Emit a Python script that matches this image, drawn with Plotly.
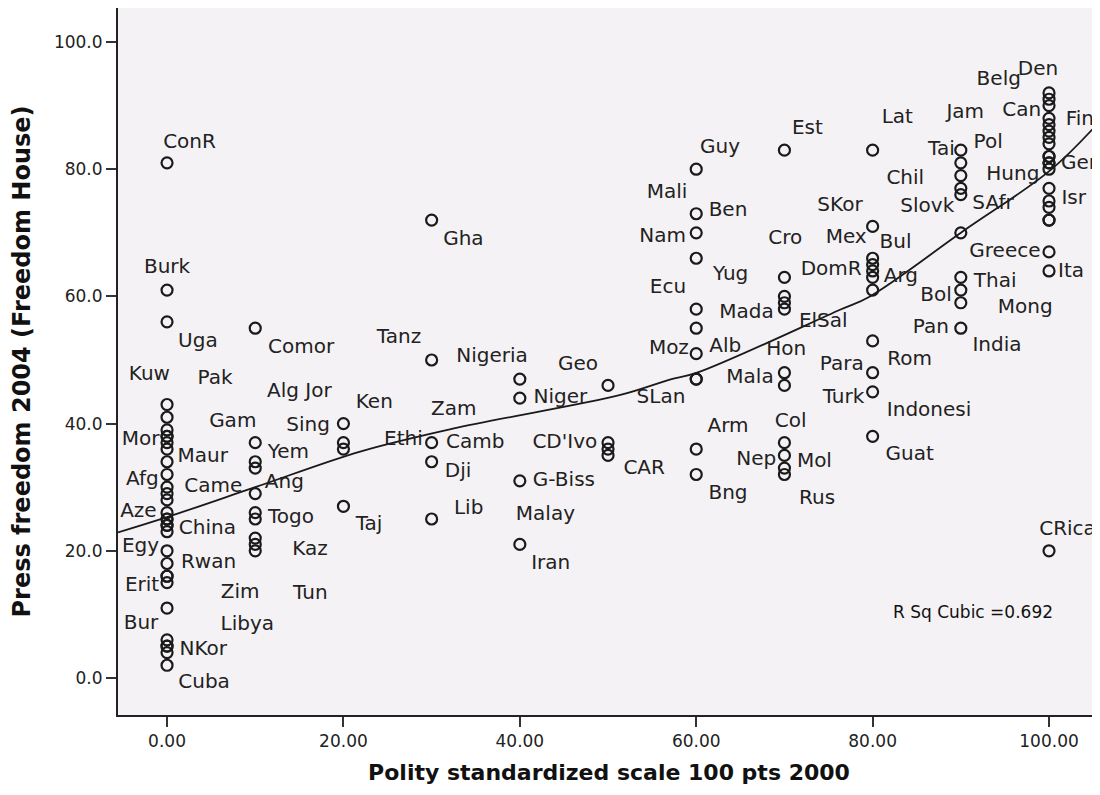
import plotly.graph_objects as go

# ---- scatter points (polity score, press freedom) ----
pts_x = ([0] * 32 + [10] * 10 + [20] * 4 + [30] * 5 + [40] * 4 + [50] * 4 +
         [60] * 11 + [70] * 11 + [80] * 11 + [90] * 10 + [100] * 21)
pts_y = [
    # x = 0
    81, 61, 56, 43, 41, 39, 38, 38, 37, 36, 34, 32, 30, 29, 28, 26, 25, 25, 24, 24,
    23, 20, 18, 16, 16, 15, 11, 6, 5, 5, 4, 2,
    # x = 10
    55, 37, 34, 33, 29, 26, 25, 22, 21, 20,
    # x = 20
    40, 37, 36, 27,
    # x = 30
    72, 50, 37, 34, 25,
    # x = 40
    47, 44, 31, 21,
    # x = 50
    46, 37, 36, 35,
    # x = 60
    80, 73, 70, 66, 58, 55, 51, 47, 47, 36, 32,
    # x = 70
    83, 63, 60, 59, 58, 48, 46, 37, 35, 33, 32,
    # x = 80
    83, 71, 66, 65, 64, 63, 61, 53, 48, 45, 38,
    # x = 90
    83, 81, 79, 77, 76, 70, 63, 61, 59, 55,
    # x = 100
    92, 91, 90, 88, 87, 86, 85, 84, 82, 82, 81, 81, 80, 77, 75, 74, 72, 72, 67, 64, 20,
]

# ---- country labels (text and where it sits, in data units) ----
lab_text = ["ConR", "Burk", "Uga", "Comor", "Kuw", "Pak", "Alg Jor", "Gam", "Sing", "Mor",
            "Yem", "Maur", "Afg", "Came", "Ang", "Aze", "Togo", "China", "Egy", "Kaz",
            "Rwan", "Erit", "Zim", "Tun", "Bur", "Libya", "NKor", "Cuba", "Ken", "Tanz",
            "Gha", "Nigeria", "Geo", "Niger", "Zam", "Ethi", "Camb", "CD'Ivo", "Dji", "G-Biss",
            "Lib", "Taj", "Malay", "Iran", "CAR", "Est", "Guy", "Mali", "Ben", "SKor",
            "Nam", "Cro", "Mex", "Yug", "DomR", "Ecu", "Mada", "ElSal", "Moz", "Alb",
            "Hon", "Para", "Mala", "SLan", "Turk", "Col", "Arm", "Nep", "Mol", "Bng",
            "Rus", "Belg", "Den", "Jam", "Can", "Fin", "Lat", "Tai", "Pol", "Ger",
            "Hung", "Chil", "Slovk", "SAfr", "Isr", "Bul", "Greece", "Ita", "Arg", "Thai",
            "Bol", "Mong", "Pan", "India", "Rom", "Indonesi", "Guat", "CRica"]
lab_x = [2.55, 0.0, 3.5, 15.2, -2.0, 5.44, 15.0, 7.45, 16.0, -3.0,
         13.75, 4.05, -2.8, 5.25, 13.3, -3.25, 14.05, 4.57, -3.0, 16.2,
         4.7, -2.83, 8.28, 16.25, -2.95, 9.1, 4.1, 4.2, 23.5, 26.3,
         33.6, 36.85, 46.6, 44.6, 32.5, 26.8, 34.95, 45.1, 33.0, 45.0,
         34.2, 22.9, 42.9, 43.5, 54.1, 72.6, 62.7, 56.7, 63.6, 76.3,
         56.2, 70.1, 77.0, 63.9, 75.3, 56.8, 65.7, 74.4, 56.9, 63.3,
         70.2, 76.5, 66.1, 56.0, 76.7, 70.7, 63.6, 66.8, 73.4, 63.6,
         73.7, 94.3, 98.75, 90.5, 96.9, 103.5, 82.8, 87.8, 93.1, 103.4,
         95.9, 83.7, 86.2, 93.65, 102.8, 82.6, 95.0, 102.5, 83.2, 93.9,
         87.2, 97.3, 86.6, 94.1, 84.2, 86.4, 84.2, 102.1]
lab_y = [84.2, 64.5, 52.8, 51.9, 47.6, 47.0, 44.9, 40.2, 39.7, 37.5,
         35.3, 34.7, 31.1, 30.1, 30.6, 26.1, 25.2, 23.4, 20.6, 20.2,
         18.1, 14.4, 13.3, 13.2, 8.5, 8.3, 4.4, -0.8, 43.3, 53.4,
         68.9, 50.5, 49.2, 44.1, 42.1, 37.4, 37.0, 36.9, 32.4, 31.0,
         26.6, 24.1, 25.7, 17.9, 32.8, 86.3, 83.4, 76.3, 73.4, 74.2,
         69.3, 69.1, 69.2, 63.4, 64.2, 61.3, 57.4, 55.9, 51.8, 52.1,
         51.6, 49.2, 47.2, 44.0, 44.0, 40.2, 39.4, 34.2, 34.0, 28.9,
         28.1, 94.1, 95.6, 88.9, 89.2, 87.8, 88.1, 83.1, 84.2, 80.8,
         79.1, 78.5, 74.0, 74.6, 75.3, 68.4, 67.0, 63.9, 63.1, 62.2,
         60.0, 58.1, 55.1, 52.2, 50.0, 42.0, 35.1, 23.3]

# ---- cubic fit line ----
fit_x = [-5.56, 0, 10, 21.9, 32.4, 51.4, 57.0, 60.1, 76.3, 79.7, 90.2, 100.2, 105.8]
fit_y = [22.9, 25.3, 30.0, 35.6, 39.2, 44.5, 46.9, 48.0, 57.9, 60.0, 70.2, 79.9, 87.6]

r_sq_text = "R Sq Cubic =0.692"
r_sq_pos = (91.4, 10.3)

x_ticks = [0, 20, 40, 60, 80, 100]
y_ticks = [0, 20, 40, 60, 80, 100]

FONT = "DejaVu Sans"
INK = "#222222"

fig = go.Figure()
fig.add_trace(go.Scatter(
    x=fit_x, y=fit_y, mode="lines",
    line=dict(color="#1a1a1a", width=1.8, shape="spline", smoothing=1.0),
    hoverinfo="skip", showlegend=False, cliponaxis=True))
fig.add_trace(go.Scatter(
    x=pts_x, y=pts_y, mode="markers",
    marker=dict(symbol="circle-open", size=11, color="#1a1a1a",
                line=dict(width=2.2, color="#1a1a1a")),
    showlegend=False))
fig.add_trace(go.Scatter(
    x=lab_x, y=lab_y, mode="text", text=lab_text,
    textposition="middle center",
    textfont=dict(family=FONT, size=20, color=INK),
    showlegend=False, hoverinfo="skip", cliponaxis=False))

fig.add_annotation(x=r_sq_pos[0], y=r_sq_pos[1], text=r_sq_text, showarrow=False,
                   font=dict(family=FONT, size=17, color="#111111"),
                   xanchor="center", yanchor="middle")

# the page adds an 8px body margin, so the figure is sized to fit inside it
FIG_W, FIG_H = 1092, 779
fig.update_layout(
    width=FIG_W, height=FIG_H,
    margin=dict(l=110, r=0, t=0, b=72, autoexpand=False),
    paper_bgcolor="white",
    plot_bgcolor="#F5F2F5",
    font=dict(family=FONT, color=INK),
)
fig.update_xaxes(
    range=[-5.56, 105.78], tickvals=x_ticks, tickformat=".2f",
    ticks="outside", ticklen=10, tickwidth=1.5, tickcolor="#333",
    tickfont=dict(family=FONT, size=17, color=INK),
    showgrid=False, zeroline=False, automargin=False,
    showline=True, linecolor="#222", linewidth=2, mirror=True,
    title=dict(text="<b>Polity standardized scale 100 pts 2000</b>",
               font=dict(family=FONT, size=22, color="#111"), standoff=14),
)
fig.update_yaxes(
    range=[-5.82, 105.35], tickvals=y_ticks, tickformat=".1f",
    ticks="outside", ticklen=10, tickwidth=1.5, tickcolor="#333",
    tickfont=dict(family=FONT, size=17, color=INK),
    showgrid=False, zeroline=False, automargin=False,
    showline=True, linecolor="#222", linewidth=2, mirror=True,
    title=dict(text="<b>Press freedom 2004 (Freedom House)</b>",
               font=dict(family=FONT, size=24, color="#111"), standoff=20),
)

fig.write_html("out.html", default_width=f"{FIG_W}px", default_height=f"{FIG_H}px")
